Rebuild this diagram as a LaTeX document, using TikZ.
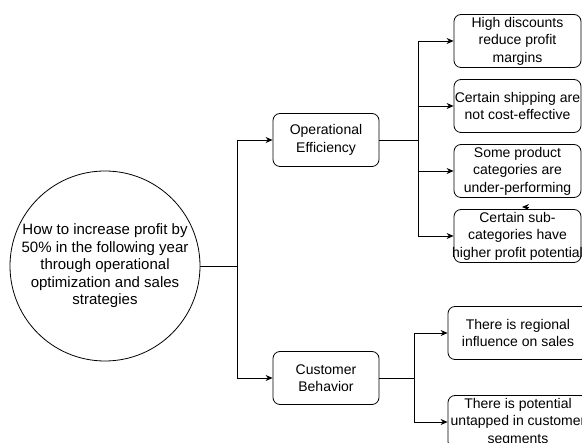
\documentclass[tikz,border=0pt]{standalone}
\usepackage{fontspec}
\setmainfont{Liberation Sans}
\usetikzlibrary{arrows.meta}
\newcommand{\fitline}[1]{\makebox[100pt]{#1}}
\begin{document}
\begin{tikzpicture}[x=1pt,y=-1pt,line width=0.8pt,
    box/.style={draw,rounded corners=7pt,align=center,inner sep=2pt,
        font=\fontsize{14}{17.5}\selectfont},
    mid/.style={box,minimum width=106pt,minimum height=53pt},
    leaf/.style={box,minimum width=127pt,minimum height=53pt},
    wideleaf/.style={box,minimum width=140pt,minimum height=53pt},
    link/.style={-{Stealth[length=7pt,width=6pt]}}]
    \useasboundingbox (0,0) rectangle (582,443);
    \clip (0,0) rectangle (582,443);
    % question
    \node[draw,circle,minimum size=190pt,inner sep=0pt,align=center,
        font=\fontsize{15}{17.5}\selectfont] (q) at (105,266)
        {How to increase profit by\\50\% in the following year\\through operational\\optimization and sales\\strategies};
    % branches
    \node[mid] (oe) at (326,140) {Operational\\Efficiency};
    \node[mid] (cb) at (326,378) {Customer\\Behavior};
    % hypotheses
    \node[leaf] (s1) at (517.5,41) {High discounts\\reduce profit\\margins};
    \node[leaf] (s2) at (517.5,106) {\fitline{Certain shipping are}\\not cost-effective};
    \node[leaf] (s3) at (517.5,171) {Some product\\categories are\\under-performing};
    \node[leaf] (s4) at (517.5,236) {Certain sub-\\categories have\\\fitline{higher profit potential}};
    \node[wideleaf] (c1) at (518,333) {There is regional\\influence on sales};
    \node[wideleaf] (c2) at (518,422) {There is potential\\\fitline{untapped in customer}\\segments};
    % connectors
    \coordinate (j0) at (237,266);
    \coordinate (j1) at (418,140);
    \coordinate (j2) at (414,378);
    \draw (q.east) -- (j0);
    \draw[link] (j0) |- (oe.west);
    \draw[link] (j0) |- (cb.west);
    \draw (oe.east) -- (j1);
    \foreach \n in {s1,s2,s3,s4}
        \draw[link] (j1) |- (\n.west);
    \draw (cb.east) -- (j2);
    \foreach \n in {c1,c2}
        \draw[link] (j2) |- (\n.west);
    \coordinate (stray) at (522,207);
    \draw[link] ([xshift=7pt]stray) -- (stray);
\end{tikzpicture}
\end{document}
